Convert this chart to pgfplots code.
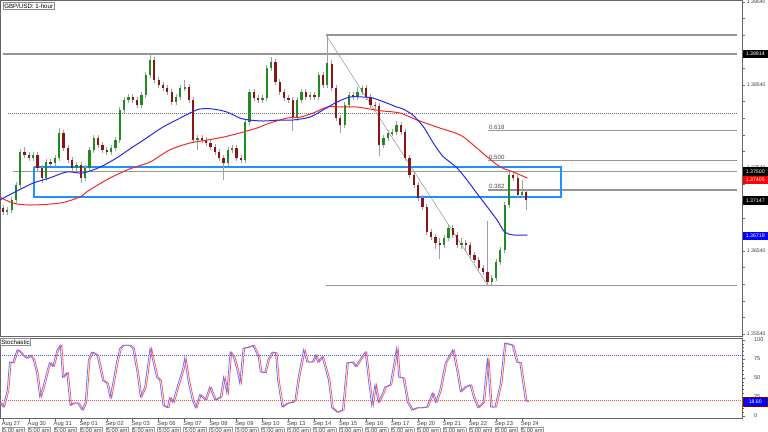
\documentclass[border=0pt]{standalone}
\usepackage{fontspec}
\setmainfont{Liberation Sans}
\usepackage{pgfplots}
\usepackage{pgfplotstable}
\pgfplotsset{compat=1.18}
\definecolor{upc}{RGB}{30,140,30}
\definecolor{dnc}{RGB}{140,20,20}
\definecolor{wick}{RGB}{160,160,160}
\definecolor{ma1}{RGB}{40,40,235}
\definecolor{ma2}{RGB}{245,40,40}
\definecolor{rectc}{RGB}{30,144,255}
\definecolor{lvl}{RGB}{150,150,150}
\definecolor{stk}{RGB}{110,110,255}
\definecolor{std}{RGB}{255,90,90}

\pgfplotstableread{
t o h l c
0 1.37060 1.37100 1.36970 1.37010
4 1.37010 1.37074 1.36970 1.37034
8 1.37034 1.37194 1.36994 1.37154
12 1.37154 1.37375 1.37114 1.37335
16 1.37335 1.37773 1.37295 1.37733
20 1.37733 1.37800 1.37657 1.37697
24 1.37697 1.37737 1.37620 1.37660
28 1.37660 1.37737 1.37620 1.37697
32 1.37697 1.37737 1.37500 1.37540
36 1.37540 1.37580 1.37359 1.37419
40 1.37419 1.37652 1.37379 1.37612
44 1.37612 1.37652 1.37560 1.37600
48 1.37600 1.37700 1.37560 1.37660
52 1.37660 1.38022 1.37620 1.37962
56 1.37962 1.38002 1.37741 1.37781
60 1.37781 1.37821 1.37596 1.37636
64 1.37636 1.37676 1.37500 1.37540
68 1.37540 1.37616 1.37500 1.37576
72 1.37576 1.37616 1.37359 1.37419
76 1.37419 1.37580 1.37379 1.37540
80 1.37540 1.37797 1.37500 1.37757
84 1.37757 1.37941 1.37717 1.37901
88 1.37901 1.37941 1.37777 1.37817
92 1.37817 1.37857 1.37717 1.37757
96 1.37757 1.37797 1.37693 1.37733
100 1.37733 1.37821 1.37693 1.37781
104 1.37781 1.37917 1.37741 1.37877
108 1.37877 1.38279 1.37837 1.38239
112 1.38239 1.38399 1.38199 1.38359
116 1.38359 1.38435 1.38319 1.38395
120 1.38395 1.38435 1.38319 1.38359
124 1.38359 1.38399 1.38259 1.38299
128 1.38299 1.38459 1.38259 1.38419
132 1.38419 1.38700 1.38379 1.38660
136 1.38660 1.38914 1.38620 1.38841
140 1.38841 1.38881 1.38560 1.38600
144 1.38600 1.38640 1.38500 1.38540
148 1.38540 1.38580 1.38464 1.38504
152 1.38504 1.38544 1.38416 1.38456
156 1.38456 1.38496 1.38295 1.38335
160 1.38335 1.38435 1.38295 1.38395
164 1.38395 1.38544 1.38355 1.38504
168 1.38504 1.38600 1.38464 1.38516
172 1.38516 1.38556 1.38319 1.38359
176 1.38359 1.38399 1.37837 1.37877
180 1.37877 1.37941 1.37760 1.37901
184 1.37901 1.37941 1.37837 1.37877
188 1.37877 1.37917 1.37801 1.37841
192 1.37841 1.37881 1.37753 1.37793
196 1.37793 1.37833 1.37693 1.37733
200 1.37733 1.37773 1.37620 1.37660
204 1.37660 1.37700 1.37395 1.37600
208 1.37600 1.37797 1.37560 1.37757
212 1.37757 1.37821 1.37717 1.37781
216 1.37781 1.37821 1.37620 1.37660
220 1.37660 1.37700 1.37596 1.37636
224 1.37636 1.38134 1.37596 1.38094
228 1.38094 1.38496 1.38054 1.38456
232 1.38456 1.38496 1.38343 1.38383
236 1.38383 1.38423 1.38319 1.38359
240 1.38359 1.38423 1.38319 1.38383
244 1.38383 1.38785 1.38343 1.38745
248 1.38745 1.38880 1.38705 1.38817
252 1.38817 1.38857 1.38536 1.38576
256 1.38576 1.38616 1.38416 1.38456
260 1.38456 1.38496 1.38343 1.38383
264 1.38383 1.38423 1.38319 1.38359
268 1.38359 1.38399 1.37990 1.38142
272 1.38142 1.38399 1.38102 1.38359
276 1.38359 1.38496 1.38319 1.38456
280 1.38456 1.38496 1.38355 1.38395
284 1.38395 1.38459 1.38355 1.38419
288 1.38419 1.38459 1.38355 1.38395
292 1.38395 1.38700 1.38355 1.38660
296 1.38660 1.38700 1.38500 1.38540
300 1.38540 1.39143 1.38500 1.38800
304 1.38800 1.38840 1.38464 1.38504
308 1.38504 1.38544 1.38102 1.38142
312 1.38142 1.38182 1.37962 1.38058
316 1.38058 1.38339 1.38018 1.38299
320 1.38299 1.38459 1.38259 1.38419
324 1.38419 1.38459 1.38355 1.38395
328 1.38395 1.38520 1.38355 1.38456
332 1.38456 1.38544 1.38416 1.38504
336 1.38504 1.38544 1.38355 1.38395
340 1.38395 1.38435 1.38259 1.38299
344 1.38299 1.38339 1.38250 1.38290
348 1.38290 1.38330 1.37680 1.37817
352 1.37817 1.37941 1.37777 1.37901
356 1.37901 1.38002 1.37861 1.37962
360 1.37962 1.38014 1.37922 1.37974
364 1.37974 1.38110 1.37934 1.38058
368 1.38058 1.38098 1.37934 1.37974
372 1.37974 1.38014 1.37620 1.37660
376 1.37660 1.37700 1.37416 1.37456
380 1.37456 1.37496 1.37295 1.37335
384 1.37335 1.37375 1.37138 1.37178
388 1.37178 1.37218 1.37030 1.37070
392 1.37070 1.37110 1.36729 1.36769
396 1.36769 1.36809 1.36669 1.36709
400 1.36709 1.36749 1.36560 1.36636
404 1.36636 1.36700 1.36440 1.36612
408 1.36612 1.36737 1.36572 1.36697
412 1.36697 1.36857 1.36657 1.36817
416 1.36817 1.36857 1.36693 1.36733
420 1.36733 1.36773 1.36572 1.36612
424 1.36612 1.36700 1.36560 1.36636
428 1.36636 1.36676 1.36530 1.36612
432 1.36612 1.36652 1.36452 1.36492
436 1.36492 1.36532 1.36392 1.36432
440 1.36432 1.36472 1.36295 1.36335
444 1.36335 1.36375 1.36247 1.36287
448 1.36287 1.36900 1.36120 1.36167
452 1.36167 1.36255 1.36127 1.36215
456 1.36215 1.36447 1.36175 1.36407
460 1.36407 1.36592 1.36367 1.36552
464 1.36552 1.37134 1.36512 1.37094
468 1.37094 1.37520 1.37054 1.37456
472 1.37456 1.37496 1.37379 1.37419
476 1.37419 1.37459 1.37175 1.37215
480 1.37215 1.37390 1.37175 1.37251
484 1.37251 1.37291 1.37034 1.37154
}\candles

\pgfplotstableread{
t k
-3 18
0 12
4 34
6 71
9 70
13 87
16 84
18 80
22 76
25 80
28 74
31 57
34 25
37 38
41 61
43 70
46 65
50 87
53 93
55 51
59 57
62 14
65 17
69 17
73 8
76 18
79 74
82 84
87 80
92 47
96 43
99 24
102 47
105 71
108 89
111 93
117 93
120 89
124 57
127 25
131 38
136 89
139 70
142 51
145 47
148 14
152 11
154 24
157 18
161 38
166 61
168 76
171 47
175 21
178 11
182 28
187 21
191 38
196 21
201 25
204 51
207 30
210 84
213 78
216 63
219 43
222 89
228 91
231 93
236 78
238 58
242 57
245 74
249 84
252 83
254 47
258 12
263 17
267 18
270 21
273 51
278 87
281 71
286 71
289 80
291 71
295 78
298 63
301 47
304 11
309 5
314 8
318 70
323 71
326 65
330 74
335 84
338 47
341 14
344 41
347 18
351 30
353 38
358 41
361 65
364 89
366 51
370 50
374 18
378 8
383 11
388 11
392 12
397 30
400 18
404 34
409 70
413 80
416 87
420 57
423 32
427 38
432 41
435 25
439 11
444 18
448 76
451 12
455 12
460 43
464 96
471 93
475 71
478 70
483 21
485 18.6
}\stoch

\begin{document}
\begin{tikzpicture}[font=\fontsize{4.6}{5.4}\selectfont]
\useasboundingbox (0,0) rectangle (576pt,-324pt);
\begin{axis}[
  at={(0,0)}, anchor=north west,
  scale only axis, width=556.5pt, height=252pt,
  xmin=-2.77, xmax=683.5, ymin=1.35516, ymax=1.39564,
  clip mode=individual,
  axis line style={black!60, line width=0.6pt},
  xtick=\empty,
  ytick pos=right, yticklabel pos=right,
  ytick={1.35540,1.36540,1.37540,1.38540,1.39540},
  minor y tick num=4,
  tick align=outside,
  major tick length=2.5pt, minor tick length=2pt,
  tick style={black!60, line width=0.4pt},
  yticklabel style={font=\fontsize{3.9}{4.6}\selectfont, text=black!75, inner sep=0.6pt, xshift=0.3pt},
  y tick label style={/pgf/number format/.cd, fixed, fixed zerofill, precision=5, assume math mode=true},
  scaled y ticks=false,
]
% horizontal levels
\addplot[lvl, line width=0.9pt] coordinates {(0,1.38914) (679,1.38914)};
\addplot[lvl, line width=0.9pt] coordinates {(298.7,1.39143) (679,1.39143)};
\addplot[lvl, line width=0.9pt] coordinates {(298.7,1.36120) (679,1.36120)};
\addplot[lvl, line width=0.9pt] coordinates {(9,1.37500) (679,1.37500)};
\addplot[lvl, line width=0.8pt] coordinates {(448.6,1.37988) (679,1.37988)};
\addplot[lvl, line width=0.8pt] coordinates {(448.6,1.37632) (679,1.37632)};
\addplot[lvl, line width=0.8pt] coordinates {(448.6,1.37275) (679,1.37275)};
\addplot[black!55, densely dotted, line width=0.5pt] coordinates {(4.6,1.38203) (679,1.38203)};
\addplot[lvl, line width=0.4pt] coordinates {(298.7,1.39143) (448.6,1.36120)};
% support / resistance box
\addplot[rectc, line width=1.1pt] coordinates {(28.7,1.37552) (516.1,1.37552) (516.1,1.37191) (28.7,1.37191) (28.7,1.37552)};
% wicks
\addplot[draw=none, mark=none, forget plot,
  error bars/.cd, y dir=both, y explicit, error mark=none,
  error bar style={draw=wick, solid, line width=0.5pt}]
  table[x=t, y expr={(\thisrow{h}+\thisrow{l})/2}, y error expr={(\thisrow{h}-\thisrow{l})/2}] {\candles};
% bull bodies
\addplot[draw=none, mark=none, forget plot, unbounded coords=discard,
  error bars/.cd, y dir=both, y explicit, error mark=none,
  error bar style={draw=upc, solid, line width=1.7pt}]
  table[x=t, y expr={\thisrow{c}>=\thisrow{o} ? (\thisrow{o}+\thisrow{c})/2 : nan},
        y error expr={max(abs(\thisrow{c}-\thisrow{o})/2,0.00003)}] {\candles};
% bear bodies
\addplot[draw=none, mark=none, forget plot, unbounded coords=discard,
  error bars/.cd, y dir=both, y explicit, error mark=none,
  error bar style={draw=dnc, solid, line width=1.7pt}]
  table[x=t, y expr={\thisrow{c}<\thisrow{o} ? (\thisrow{o}+\thisrow{c})/2 : nan},
        y error expr={max(abs(\thisrow{c}-\thisrow{o})/2,0.00003)}] {\candles};
% moving averages
\addplot[ma2, line width=0.75pt, smooth, mark=none] coordinates {
(-3,1.37191) (9,1.37118) (25,1.37094) (53,1.37118) (71,1.37191) (80,1.37275)
(99,1.37419) (117,1.37528) (136,1.37612) (154,1.37757) (173,1.37841) (189,1.37877)
(204,1.37913) (219,1.37962) (235,1.38022) (244,1.38070) (250,1.38094) (263,1.38142)
(275,1.38154) (287,1.38203) (300,1.38275) (312,1.38275) (327,1.38275) (339,1.38251)
(351,1.38227) (367,1.38203) (383,1.38118) (404,1.38022) (423,1.37937) (435,1.37817)
(448,1.37672) (460,1.37552) (472,1.37492) (485,1.37419)};
\addplot[ma1, line width=0.75pt, smooth, mark=none] coordinates {
(-3,1.37154) (11,1.37251) (28,1.37359) (43,1.37419) (59,1.37492) (74,1.37480)
(90,1.37552) (105,1.37660) (120,1.37793) (130,1.37877) (148,1.38034) (164,1.38142)
(175,1.38215) (182,1.38251) (194,1.38251) (207,1.38215) (219,1.38142) (228,1.38118)
(241,1.38106) (256,1.38118) (268,1.38118) (284,1.38154) (296,1.38239) (309,1.38335)
(321,1.38395) (333,1.38395) (342,1.38383) (355,1.38323) (364,1.38275) (370,1.38251)
(379,1.38178) (389,1.38034) (398,1.37841) (407,1.37680) (420,1.37540) (432,1.37347)
(438,1.37239) (448,1.37070) (457,1.36913) (464,1.36769) (472,1.36733) (485,1.36733)};
% fib labels
\node[anchor=south west, inner sep=0.6pt, text=black!70] at (axis cs:448.6,1.37988) {0.618};
\node[anchor=south west, inner sep=0.6pt, text=black!70] at (axis cs:448.6,1.37632) {0.500};
\node[anchor=south west, inner sep=0.6pt, text=black!70] at (axis cs:448.6,1.37275) {0.382};
\node[anchor=north west, draw=black!45, fill=white, inner sep=1pt, line width=0.5pt] at (rel axis cs:0,1) [xshift=2pt, yshift=-1.5pt] {GBP/USD: 1-hour};
\coordinate (pA) at (axis cs:683.5,1.38914);
\coordinate (pB) at (axis cs:683.5,1.37500);
\coordinate (pC) at (axis cs:683.5,1.37405);
\coordinate (pD) at (axis cs:683.5,1.37147);
\coordinate (pE) at (axis cs:683.5,1.36719);
\end{axis}

\begin{axis}[
  at={(0,-253.5pt)}, anchor=north west,
  scale only axis, width=556.5pt, height=60pt,
  xmin=-2.77, xmax=683.5, ymin=-2.6, ymax=102.6,
  clip mode=individual,
  axis line style={black!60, line width=0.6pt},
  xtick={0,24,48,72,96,120,144,168,192,216,240,264,288,312,336,360,384,408,432,456,480},
  xtick pos=bottom,
  xticklabel style={anchor=north west, align=left, inner sep=0.4pt, yshift=0.5pt, xshift=-1.5pt, text=black!75,
     font=\fontsize{4.3}{5}\selectfont},
  xticklabel={\pgfmathparse{int(\ticknum)}\ifcase\pgfmathresult Aug 27\or Aug 30\or Aug 31\or Sep 01\or Sep 02\or Sep 03\or Sep 06\or Sep 07\or Sep 08\or Sep 09\or Sep 10\or Sep 13\or Sep 14\or Sep 15\or Sep 16\or Sep 17\or Sep 20\or Sep 21\or Sep 22\or Sep 23\or Sep 24\fi\\[0.3pt]{\setlength{\fboxsep}{0.5pt}\fcolorbox{black!40}{white}{5:00 am}}},
  ytick pos=right, yticklabel pos=right,
  ytick={0,25,50,75,100},
  minor y tick num=4,
  tick align=outside,
  major tick length=2.5pt, minor tick length=1.8pt,
  tick style={black!60, line width=0.4pt},
  yticklabel style={font=\fontsize{4.2}{5}\selectfont, text=black!75, xshift=3pt},
  y tick label style={/pgf/number format/assume math mode=true},
]
\addplot[blue!70, densely dotted, line width=0.5pt, mark=none] coordinates {(-2.77,80) (683.5,80)};
\addplot[red!70, densely dotted, line width=0.5pt, mark=none] coordinates {(-2.77,20) (683.5,20)};
\addplot[std, line width=0.6pt, mark=none] table[x expr=\thisrow{t}+1.5, y=k] {\stoch};
\addplot[stk, line width=0.6pt, mark=none] table[x=t, y=k] {\stoch};
\node[anchor=north west, draw=black!45, fill=white, inner sep=0.8pt, line width=0.5pt] at (rel axis cs:0,1) [yshift=-0.3pt] {Stochastic};
\coordinate (pF) at (axis cs:683.5,18.6);
\end{axis}

\tikzset{pl/.style={anchor=west, inner sep=0.6pt, minimum width=18.5pt, minimum height=6.3pt, text=white, font=\fontsize{3.9}{4.6}\selectfont}}
\node[pl, fill=black] at ([xshift=0.5pt]pA) {1.38914};
\node[pl, fill=black] at ([xshift=0.5pt]pB) {1.37500};
\node[pl, fill=red] at ([xshift=0.5pt,yshift=-0.6pt]pC) {1.37405};
\node[pl, fill=black] at ([xshift=0.5pt]pD) {1.37147};
\node[pl, fill=blue] at ([xshift=0.5pt]pE) {1.36719};
\node[pl, fill=blue, draw=red!50!black, line width=0.4pt] at ([xshift=0.5pt]pF) {18.60};
\end{tikzpicture}
\end{document}
